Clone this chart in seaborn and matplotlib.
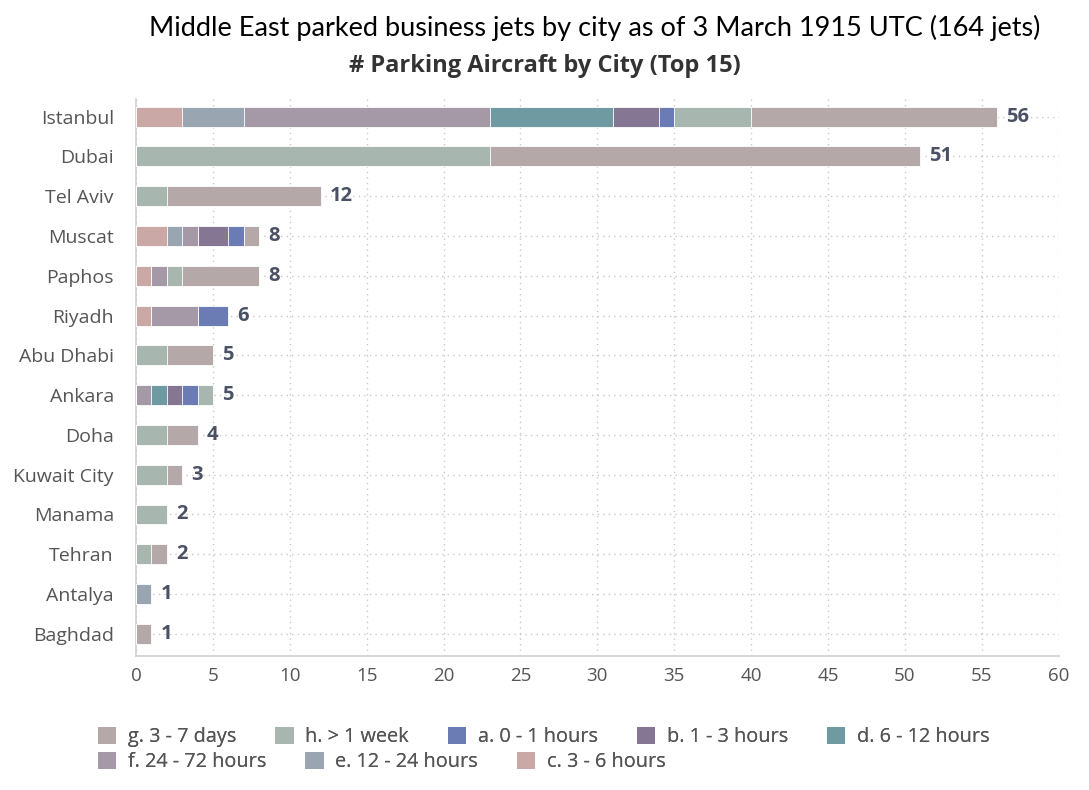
import numpy as np
import pandas as pd
import matplotlib
matplotlib.use("Agg")
import matplotlib.pyplot as plt
import seaborn as sns
from matplotlib.patches import Patch

# Data
cities = ["Istanbul", "Dubai", "Tel Aviv", "Muscat", "Paphos", "Riyadh", "Abu Dhabi",
          "Ankara", "Doha", "Kuwait City", "Manama", "Tehran", "Antalya", "Baghdad"]

# segments in stacking order (left to right)
c_3_6h   = [3, 0, 0, 2, 1, 1, 0, 0, 0, 0, 0, 0, 0, 0]
e_12_24h = [4, 0, 0, 1, 0, 0, 0, 0, 0, 0, 0, 0, 1, 0]
f_24_72h = [16, 0, 0, 1, 1, 3, 0, 1, 0, 0, 0, 0, 0, 0]
d_6_12h  = [8, 0, 0, 0, 0, 0, 0, 1, 0, 0, 0, 0, 0, 0]
b_1_3h   = [3, 0, 0, 2, 0, 0, 0, 1, 0, 0, 0, 0, 0, 0]
a_0_1h   = [1, 0, 0, 1, 0, 2, 0, 1, 0, 0, 0, 0, 0, 0]
h_1week  = [5, 23, 2, 0, 1, 0, 2, 1, 2, 2, 2, 1, 0, 0]
g_3_7d   = [16, 28, 10, 1, 5, 0, 3, 0, 2, 1, 0, 1, 0, 1]

segments = [
    ("c. 3 - 6 hours", c_3_6h, "#c9a8a6"),
    ("e. 12 - 24 hours", e_12_24h, "#99a5b0"),
    ("f. 24 - 72 hours", f_24_72h, "#a699a7"),
    ("d. 6 - 12 hours", d_6_12h, "#6f9aa1"),
    ("b. 1 - 3 hours", b_1_3h, "#857793"),
    ("a. 0 - 1 hours", a_0_1h, "#6b7cb4"),
    ("h. > 1 week", h_1week, "#a8b6b0"),
    ("g. 3 - 7 days", g_3_7d, "#b5a8a8"),
]

legend_row1 = ["g. 3 - 7 days", "h. > 1 week", "a. 0 - 1 hours", "b. 1 - 3 hours", "d. 6 - 12 hours"]
legend_row2 = ["f. 24 - 72 hours", "e. 12 - 24 hours", "c. 3 - 6 hours"]

sns.set_style("white")
plt.rcParams["font.family"] = ["Open Sans", "DejaVu Sans"]

fig = plt.figure(figsize=(10.89, 7.9), dpi=100)
ax = fig.add_axes([0.125, 0.17, 0.847, 0.705])

df = pd.DataFrame({"city": cities})
cum = np.zeros(len(cities))
cums = []
for name, vals, col in segments:
    cum = cum + np.array(vals)
    cums.append((name, cum.copy(), col))

# overlay cumulative bars, widest first
for name, cvals, col in reversed(cums):
    df["x"] = cvals
    sns.barplot(data=df, y="city", x="x", orient="h", color=col, width=0.5,
                saturation=1, edgecolor="white", linewidth=0.6, ax=ax, zorder=3)

totals = cums[-1][1]
for i, t in enumerate(totals):
    ax.text(t + 0.6, i, f"{int(t)}", va="center", ha="left", fontsize=14.5,
            fontweight="bold", color="#4b5165", zorder=4)

ax.set_xlim(0, 60)
ax.set_ylim(len(cities) - 0.45, -0.45)
ax.set_xticks(range(0, 61, 5))
ax.set_xlabel("")
ax.set_ylabel("")
ax.tick_params(axis="x", labelsize=13.5, colors="#555555", length=0, pad=8)
ax.tick_params(axis="y", labelsize=14, colors="#555555", length=0, pad=16)
for lab in ax.get_xticklabels() + ax.get_yticklabels():
    lab.set_color("#555555")

ax.grid(True, axis="both", linestyle=(0, (1, 3)), color="#c8c8c8", linewidth=1, zorder=0)
ax.set_axisbelow(True)
for s in ["top", "right"]:
    ax.spines[s].set_visible(False)
for s in ["left", "bottom"]:
    ax.spines[s].set_color("#d0d0d0")
    ax.spines[s].set_linewidth(1.2)

fig.text(0.546, 0.965, "Middle East parked business jets by city as of 3 March 1915 UTC (164 jets)",
         ha="center", va="center", fontsize=19.5, color="black", family=["Lato", "DejaVu Sans"])
fig.text(0.5, 0.917, "# Parking Aircraft by City (Top 15)", ha="center", va="center",
         fontsize=17, fontweight="bold", color="#333333")

# legend as two flowing rows
colmap = {n: c for n, _, c in segments}
for names, ypos in [(legend_row1, 1 - 737 / 790), (legend_row2, 1 - 762 / 790)]:
    handles = [Patch(facecolor=colmap[n], edgecolor="none") for n in names]
    leg = fig.legend(handles, names, loc="center left", bbox_to_anchor=(98 / 1089, ypos),
                     ncol=len(names), frameon=False, fontsize=14.3, handlelength=0.92,
                     handleheight=0.92, handletextpad=0.6, columnspacing=1.95,
                     borderpad=0, borderaxespad=0)
    for t in leg.get_texts():
        t.set_color("#555555")
    fig.add_artist(leg)

fig.savefig("out.png", dpi=100)
